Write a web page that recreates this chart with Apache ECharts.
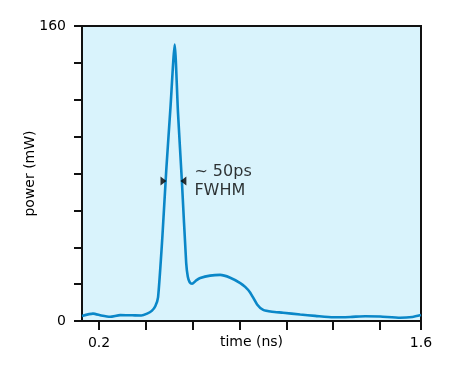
<!DOCTYPE html>
<html><head><meta charset="utf-8">
<script src="https://cdn.jsdelivr.net/npm/echarts@6/dist/echarts.min.js"></script>
<style>html,body{margin:0;padding:0;background:#fff}#c{width:470px;height:384px}</style>
</head><body><div id="c"></div>
<script>
const timeNs = [0.127,0.174,0.209,0.247,0.290,0.341,0.380,0.405,0.425,0.440,0.452,0.470,0.487,0.505,0.523,0.537,0.554,0.572,0.579,0.587,0.597,0.615,0.632,0.674,0.717,0.760,0.803,0.824,0.845,0.875,0.901,0.939,0.986,1.059,1.123,1.200,1.273,1.337,1.401,1.486,1.538,1.575];
const powerMw = [2.7,4.0,3.0,2.3,3.2,3.1,3.0,4.0,5.5,8,13,45,82,116,150,113,75,31.5,24,21,20.2,22,23.3,24.6,25,23.5,20.6,18.5,15.5,9,6,5,4.5,3.5,2.8,2.0,2.2,2.6,2.4,1.8,2.2,3.2];
const xMin = 0.127, xMax = 1.575;
const xTickValues = [0.2,0.4,0.6,0.8,1.0,1.2,1.4,1.575];
const xLabelValues = [0.2,1.575];
const xLabelText = ['0.2','1.6'];
const yLabelValues = [0,160];
const fwhmArrows = [[0.475,76],[0.560,76]];
const fwhmText = '~ 50ps\nFWHM';
const fwhmTextPos = [0.607,76];

const FONT = 'DejaVu Sans';
const chart = echarts.init(document.getElementById('c'));
chart.setOption({
  animation:false,
  textStyle:{fontFamily:FONT},
  grid:{left:82,right:49,top:26,bottom:63,show:true,backgroundColor:'#d9f3fc',borderColor:'#111',borderWidth:2},
  xAxis:{type:'value',min:xMin,max:xMax,
    name:'time (ns)',nameLocation:'middle',nameGap:14,nameMoveOverlap:false,
    nameTextStyle:{color:'#000',fontSize:14,fontFamily:FONT},
    axisLine:{show:true,lineStyle:{color:'#111',width:2}},
    axisTick:{show:true,length:9,lineStyle:{color:'#111',width:2},customValues:xTickValues},
    axisLabel:{color:'#000',fontSize:14,margin:15,customValues:xLabelValues,
      formatter:v=>{const i=xLabelValues.findIndex(x=>Math.abs(x-v)<1e-6);return i>=0?xLabelText[i]:'';}},
    splitLine:{show:false}},
  yAxis:{type:'value',min:0,max:160,interval:20,
    name:'power (mW)',nameLocation:'middle',nameGap:45,nameMoveOverlap:false,
    nameTextStyle:{color:'#000',fontSize:14,fontFamily:FONT},
    axisLine:{show:true,lineStyle:{color:'#111',width:2}},
    axisTick:{show:true,length:8,lineStyle:{color:'#111',width:2}},
    axisLabel:{color:'#000',fontSize:14,margin:16,
      formatter:v=>yLabelValues.includes(v)?String(v):''},
    splitLine:{show:false}},
  series:[
    {type:'line',data:timeNs.map((t,i)=>[t,powerMw[i]]),showSymbol:false,smooth:0.2,
     lineStyle:{color:'#0a87c8',width:2.6},z:3},
    {type:'scatter',data:[fwhmArrows[0]],symbol:'triangle',symbolSize:[9,6],symbolRotate:-90,
     itemStyle:{color:'#000'},z:4},
    {type:'scatter',data:[fwhmArrows[1]],symbol:'triangle',symbolSize:[9,6],symbolRotate:90,
     itemStyle:{color:'#000'},z:4},
    {type:'scatter',data:[fwhmTextPos],symbolSize:0,
     label:{show:true,position:'right',distance:0,formatter:fwhmText,color:'#000',fontSize:16,lineHeight:19,align:'left',verticalAlign:'middle'},z:4}
  ]
});
</script></body></html>
